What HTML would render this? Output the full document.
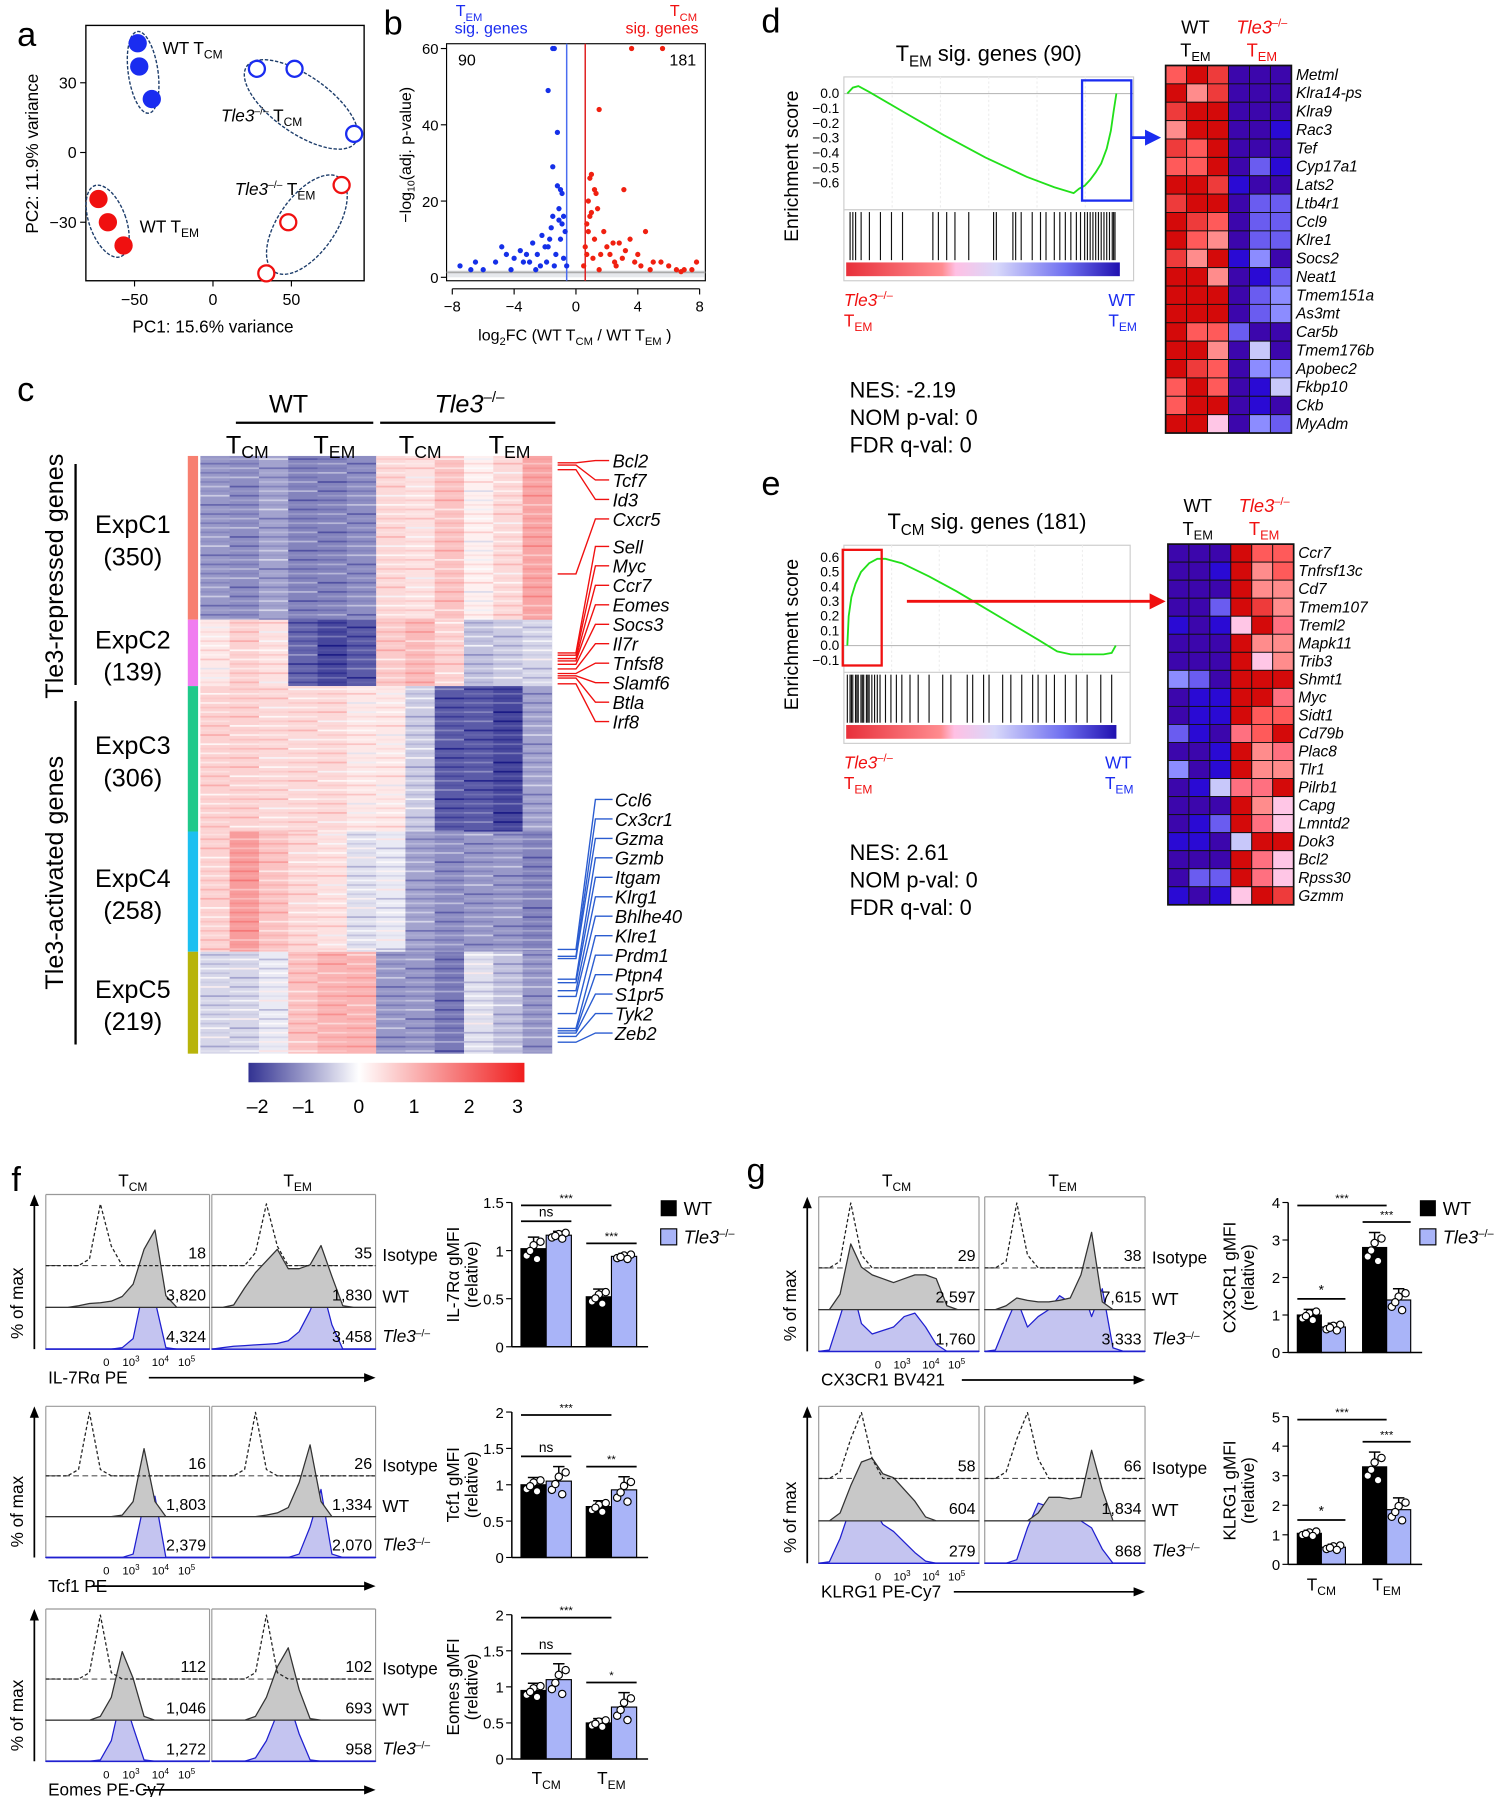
<!DOCTYPE html>
<html><head><meta charset="utf-8">
<style>
html,body{margin:0;padding:0;background:#fff;}
svg{display:block;font-family:"Liberation Sans",Arial,sans-serif;}
</style></head>
<body>
<svg id="fig" xmlns="http://www.w3.org/2000/svg" width="1500" height="1797" viewBox="0 0 1310 1569">
<rect x="0" y="0" width="1310" height="1569" fill="#fff"/>
<g font-size="30" fill="#000">
<text x="15" y="40">a</text><text x="335" y="30">b</text><text x="15" y="350">c</text>
<text x="665" y="28">d</text><text x="665" y="432">e</text><text x="10" y="1040">f</text><text x="652" y="1032">g</text>
</g>
</svg>
<script>
// ---------- DATA ----------
const pcaWTcmX=[-48,-47,-39], pcaWTcmY=[47,37,23];
const pcaKOcmX=[28,52,90], pcaKOcmY=[36,36,8];
const pcaWTemX=[-73,-67,-57], pcaWTemY=[-20,-30,-40];
const pcaKOemX=[48,82,34], pcaKOemY=[-30,-14,-52];
const pcaXTicks=[-50,0,50], pcaYTicks=[30,0,-30];
const volBlueX=[-7.5,-6.8,-6.5,-6,-5.2,-4.8,-4.5,-4,-3.6,-3.2,-3,-2.8,-2.5,-2.2,-2,-1.8,-1.6,-1.5,-1.3,-1.2,-1.1,-1,-0.9,-0.8,-0.7,-0.9,-1,-0.6,-1.4,-2.6,-3.4,-1.9,-1.5,-1.4,-1.8,-1.2,-1.5,-4.2,-2.3,-1.7,-0.8,-1.1];
const volBlueY=[3,2,4,2,4,8,6,5,7,6,4,9,6,11,8,8,13,16,6,24,15,10,22,5,12,14,23,3,3,2,4,4,60,60,49,38,29,2,3,10,16,18];
const volRedX=[0.5,0.6,0.7,0.8,0.9,1,0.8,1.1,1.2,1.4,1.6,1.8,2,2.2,2.5,2.8,3,3.2,3.5,3.8,4,4.2,4.5,5,5.5,6,6.5,7,7.5,7.8,1.3,2.4,1.5,3.6,5.6,1.5,2.6,4.8,6.8,1.0,1.2,0.9,3.1,0.7];
const volRedY=[3,8,14,20,26,17,12,5,10,18,6,12,8,6,4,9,5,7,10,4,6,3,12,4,4,3,2,2,2,4,22,9,44,60,60,2,3,2,1.5,27,23,16,23,6];
const volXTicks=[-8,-4,0,4,8], volYTicks=[0,20,40,60];
const hmClusters=["ExpC1","ExpC2","ExpC3","ExpC4","ExpC5"];
const hmCounts=[350,139,306,258,219];
const hmC1=[-1,-1.1,-0.9,-1.2,-1.2,-1.1,0.5,0.4,0.8,0.2,0.5,1.2];
const hmC2=[0.3,0.6,0.4,-1.5,-1.8,-1.6,0.7,0.9,0.6,-0.6,-0.5,-0.4];
const hmC3=[0.6,0.6,0.5,0.5,0.5,0.3,0.3,-0.5,-1.6,-1.6,-1.8,-0.9];
const hmC4=[0.6,1.3,0.8,0.5,0.4,-0.3,-0.2,-0.9,-1.1,-1,-1,-1.2];
const hmC5=[-0.4,-0.4,-0.2,0.8,1.0,1.0,-1.0,-1.0,-1.3,-0.3,-0.6,-1.0];
const hmGenesUp=["Bcl2","Tcf7","Id3","Cxcr5","Sell","Myc","Ccr7","Eomes","Socs3","Il7r","Tnfsf8","Slamf6","Btla","Irf8"];
const hmGenesDown=["Ccl6","Cx3cr1","Gzma","Gzmb","Itgam","Klrg1","Bhlhe40","Klre1","Prdm1","Ptpn4","S1pr5","Tyk2","Zeb2"];
const cbTicks=[-2,-1,0,1,2,3];
// Panel d: running ES at rank fractions
const dESx=[0,0.02,0.04,0.08,0.2,0.35,0.5,0.65,0.75,0.82,0.84,0.86,0.88,0.9,0.92,0.94,0.955,0.965,0.975];
const dES=[0,0.04,0.05,0.01,-0.12,-0.28,-0.43,-0.56,-0.63,-0.67,-0.64,-0.62,-0.58,-0.53,-0.47,-0.37,-0.25,-0.12,0.0];
const dHits=[0.01,0.02,0.03,0.05,0.08,0.12,0.16,0.2,0.31,0.33,0.36,0.39,0.44,0.53,0.54,0.6,0.61,0.63,0.67,0.7,0.72,0.75,0.77,0.79,0.81,0.83,0.845,0.86,0.87,0.88,0.89,0.9,0.91,0.92,0.93,0.94,0.95,0.96,0.965,0.97];
const dGenes=["Metml","Klra14-ps","Klra9","Rac3","Tef","Cyp17a1","Lats2","Ltb4r1","Ccl9","Klre1","Socs2","Neat1","Tmem151a","As3mt","Car5b","Tmem176b","Apobec2","Fkbp10","Ckb","MyAdm"];
const dVals=[[1.5,3,2,-3,-3,-3],[3,1,2,-3,-3,-3],[2,3,3,-3,-3,-3],[1,3,3,-3,-3,-2],[2,1.5,3,-3,-3,-3],[1.5,1.5,3,-3,-1,-2],[3,3,2,-2,-3,-3],[2,3,3,-3,-1,-1],[3,2,1.5,-3,-1,-1],[3,1.5,1,-3,-1,-1],[2,1,3,-2,-0.7,-3],[3,3,1,-3,-2,-1],[3,3,3,-3,-1,-0.7],[3,3,3,-3,-1,-0.7],[3,1.5,1.5,-1,-3,-3],[3,3,1,-3,-0.2,-3],[3,2,1.5,-3,-0.7,-0.7],[1.5,3,1.5,-3,-2,-0.2],[1.5,3,3,-3,-2,-3],[3,3,0.3,-3,-0.7,-1]];
// Panel e
const eESx=[0,0.005,0.015,0.03,0.05,0.08,0.11,0.14,0.2,0.3,0.4,0.5,0.6,0.7,0.77,0.82,0.88,0.94,0.97,0.985];
const eES=[0,0.2,0.33,0.42,0.5,0.56,0.59,0.59,0.56,0.47,0.37,0.26,0.15,0.04,-0.04,-0.06,-0.06,-0.06,-0.05,0.0];
const eHits=[0.0,0.01,0.015,0.02,0.03,0.035,0.04,0.05,0.055,0.06,0.07,0.075,0.08,0.09,0.1,0.11,0.12,0.14,0.16,0.18,0.2,0.23,0.26,0.3,0.35,0.38,0.44,0.46,0.5,0.52,0.57,0.6,0.64,0.68,0.7,0.73,0.76,0.8,0.84,0.88,0.93,0.97];
const eGenes=["Ccr7","Tnfrsf13c","Cd7","Tmem107","Treml2","Mapk11","Trib3","Shmt1","Myc","Sidt1","Cd79b","Plac8","Tlr1","Pilrb1","Capg","Lmntd2","Dok3","Bcl2","Rpss30","Gzmm"];
const eVals=[[-3,-3,-3,3,1.5,1.5],[-3,-3,-2,3,1,1.5],[-3,-3,-3,3,1,1],[-3,-3,-1,3,2,1],[-2,-3,-2,0.3,3,1.2],[-3,-3,-3,3,1,1],[-3,-3,-3,3,0.3,1],[-0.7,-1,-3,3,3,3],[-3,-2,-2,3,3,1.2],[-3,-2,-2,3,1.5,1.5],[-1,-2,-3,1.2,1.5,3],[-3,-3,-2,3,1,1.2],[-0.7,-3,-2,3,1,1],[-3,-2,-0.2,1.2,1.2,3],[-3,-3,-3,3,1,0.3],[-3,-2,-1,3,1.2,0.3],[-2,-2,-3,-0.2,3,3],[-3,-3,-3,3,1.2,0.3],[-3,-1,-1,3,1.2,0.3],[-2,-3,-2,0.3,3,2]];
const f1Bars=[1.02,1.16,0.52,0.94], f1Err=[0.12,0.04,0.08,0.03];
const f2Bars=[1.0,1.05,0.7,0.93], f2Err=[0.1,0.2,0.08,0.18];
const f3Bars=[0.95,1.1,0.5,0.72], f3Err=[0.1,0.22,0.06,0.2];
const g1Bars=[1.0,0.68,2.8,1.4], g1Err=[0.15,0.1,0.4,0.3];
const g2Bars=[1.05,0.58,3.3,1.85], g2Err=[0.1,0.1,0.5,0.4];
const f1Ticks=[0,0.5,1.0,1.5], f23Ticks=[0,0.5,1,1.5,2], g1Ticks=[0,1,2,3,4], g2Ticks=[0,1,2,3,4,5];
const hF1cm=[[0,0,0,0,0.1,0.95,0.3,0,0,0,0,0,0,0,0,0],[0,0,0,0.02,0.05,0.06,0.08,0.14,0.3,0.75,1,0.15,0,0,0,0],[0,0,0,0,0,0,0,0.02,0.15,0.9,0.7,0.02,0,0,0,0]];
const hF1em=[[0,0,0,0,0.2,0.95,0.3,0,0,0,0,0,0,0,0,0],[0,0,0.03,0.25,0.45,0.6,0.75,0.5,0.5,0.55,0.8,0.4,0.02,0,0,0],[0,0.02,0.04,0.05,0.06,0.07,0.08,0.12,0.25,0.55,0.95,0.35,0,0,0,0]];
const hF2cm=[[0,0,0,0.1,1,0.1,0,0,0,0,0,0,0,0,0,0],[0,0,0,0,0,0,0,0.02,0.2,0.9,0.2,0,0,0,0,0],[0,0,0,0,0,0,0,0,0.05,0.8,0.9,0,0,0,0,0]];
const hF2em=[[0,0,0,0.1,1,0.1,0,0,0,0,0,0,0,0,0,0],[0,0,0,0,0,0.02,0.05,0.12,0.45,0.95,0.2,0,0,0,0,0],[0,0,0,0,0,0,0,0,0.05,0.45,1,0.05,0,0,0,0]];
const hF3cm=[[0,0,0,0,0.1,1,0.1,0,0,0,0,0,0,0,0,0],[0,0,0,0,0,0.05,0.3,0.9,0.55,0.05,0,0,0,0,0,0],[0,0,0,0,0,0.02,0.3,1,0.5,0.02,0,0,0,0,0,0]];
const hF3em=[[0,0,0,0,0.1,1,0.1,0,0,0,0,0,0,0,0,0],[0,0,0,0,0.05,0.3,0.7,0.95,0.4,0.02,0,0,0,0,0,0],[0,0,0,0,0.05,0.3,0.7,0.9,0.4,0.02,0,0,0,0,0,0]];
const hG1cm=[[0,0,0.1,1,0.2,0,0,0,0,0,0,0,0,0,0,0],[0,0,0.2,0.85,0.55,0.45,0.4,0.35,0.4,0.45,0.45,0.4,0.05,0,0,0],[0,0.02,0.5,1,0.4,0.25,0.3,0.35,0.5,0.55,0.35,0.1,0,0,0,0]];
const hG1em=[[0,0,0.1,1,0.2,0,0,0,0,0,0,0,0,0,0,0],[0,0,0.05,0.15,0.12,0.1,0.1,0.12,0.15,0.45,1,0.1,0,0,0,0],[0,0.02,0.4,0.75,0.35,0.5,0.6,0.8,0.7,0.95,0.5,0.9,0.05,0,0,0]];
const hG2cm=[[0,0,0.1,0.6,1,0.3,0,0,0,0,0,0,0,0,0,0],[0,0,0.1,0.45,0.75,0.8,0.6,0.55,0.4,0.25,0.05,0,0,0,0,0],[0,0.02,0.35,0.8,0.95,0.8,0.55,0.45,0.3,0.15,0.03,0,0,0,0,0]];
const hG2em=[[0,0,0.1,0.6,1,0.3,0,0,0,0,0,0,0,0,0,0],[0,0,0,0,0,0.1,0.3,0.3,0.28,0.3,0.9,0.4,0,0,0,0],[0,0,0,0.05,0.5,0.85,0.8,0.7,0.65,0.6,0.5,0.2,0,0,0,0]];

// ---------- HELPERS ----------
const NS="http://www.w3.org/2000/svg";
const svg=document.getElementById('fig');
function mk(tag,attrs,parent){const e=document.createElementNS(NS,tag);for(const k in attrs)e.setAttribute(k,attrs[k]);(parent||svg).appendChild(e);return e;}
function txt(x,y,s,opts,parent){const o=Object.assign({x:x,y:y,'font-size':14},opts||{});const t=mk('text',o,parent);t.innerHTML=s;return t;}
function grp(name){const g=mk('g',{});return g;}
const SUB=(s)=>`<tspan font-size="0.7em" dy="4">${s}</tspan><tspan dy="-4"> </tspan>`;
function hmColor(v){
  if(v>=2.5)return'#d40a0a';if(v>=1.8)return'#ee3b3b';if(v>=1.4)return'#ff5a5a';if(v>=1.1)return'#ff7080';if(v>=0.8)return'#ff8c8c';if(v>0)return'#ffc6e6';
  if(v<=-2.5)return'#3c06ac';if(v<=-1.8)return'#2a0ad4';if(v<=-0.9)return'#6a5cf0';if(v<=-0.5)return'#8c8cff';return'#c8c8fa';}
function divColor(v){
  let r,g,b;
  if(v<0){const t=Math.min(1,-v/2.3);r=255+(20-255)*t;g=255+(20-255)*t;b=255+(130-255)*t;}
  else{const t=Math.min(1,v/3);r=255+(240-255)*t;g=255+(30-255)*t;b=255+(30-255)*t;}
  return `rgb(${r|0},${g|0},${b|0})`;}

// ---------- PANEL A ----------
(function(){
  const G=grp('pca-plot');
  const xs=v=>186+v*1.37, ys=v=>133-v*2.03;
  const frame=mk('rect',{x:75,y:22,width:243,height:223,fill:'none',stroke:'#000','stroke-width':1.2},G);
  
  pcaXTicks.forEach(t=>{mk('line',{x1:xs(t),x2:xs(t),y1:245,y2:250,stroke:'#000'},G);txt(xs(t),266,String(t).replace('-','−'),{'text-anchor':'middle','font-size':14},G);});
  pcaYTicks.forEach(t=>{mk('line',{x1:70,x2:75,y1:ys(t),y2:ys(t),stroke:'#000'},G);txt(67,ys(t)+5,String(t).replace('-','−'),{'text-anchor':'end','font-size':14},G);});
  const xl=txt(186,290,'PC1: 15.6% variance',{'text-anchor':'middle','font-size':15},G);
  
  const yl=txt(0,0,'PC2: 11.9% variance',{'text-anchor':'middle','font-size':15,transform:'translate(33,134) rotate(-90)'},G);
  
  [[125,63,13,36,-8],[263,91,58,25,35],[94,193,16,33,-20],[268,196,50,25,-55]].forEach(e=>{
    const el=mk('ellipse',{cx:e[0],cy:e[1],rx:e[2],ry:e[3],fill:'none',stroke:'#1d3d6b','stroke-width':1.2,'stroke-dasharray':'3,1.5',transform:`rotate(${e[4]} ${e[0]} ${e[1]})`},G);
    });
  function pts(X,Y,col,filled,name){X.forEach((v,i)=>{const c=mk('circle',{cx:xs(v),cy:ys(Y[i]),r:filled?8:7,fill:filled?col:'#fff',stroke:col,'stroke-width':filled?0:2},G);
    });}
  pts(pcaWTcmX,pcaWTcmY,'#1a2cf0',true,'pca-point-wt-tcm');
  pts(pcaKOcmX,pcaKOcmY,'#1a2cf0',false,'pca-point-tle3-tcm');
  pts(pcaWTemX,pcaWTemY,'#f01010',true,'pca-point-wt-tem');
  pts(pcaKOemX,pcaKOemY,'#f01010',false,'pca-point-tle3-tem');
  txt(142,47,'WT T'+SUB('CM'),{'font-size':15},G);
  txt(193,106,'<tspan font-style="italic">Tle3</tspan><tspan font-size="0.6em" dy="-6">–/–</tspan><tspan dy="6"> T</tspan>'+SUB('CM'),{'font-size':15},G);
  txt(122,203,'WT T'+SUB('EM'),{'font-size':15},G);
  txt(205,170,'<tspan font-style="italic">Tle3</tspan><tspan font-size="0.6em" dy="-6">–/–</tspan><tspan dy="6"> T</tspan>'+SUB('EM'),{'font-size':15},G);
})();

// ---------- PANEL B ----------
(function(){
  const G=grp('volcano-plot');
  const xs=v=>503+v*13.5, ys=v=>242-v*3.33;
  mk('rect',{x:390,y:38,width:226,height:207,fill:'none',stroke:'#000','stroke-width':1},G);
  mk('rect',{x:391,y:236,width:224,height:6,fill:'#e6e8ec'},G);
  mk('line',{x1:390,x2:616,y1:ys(1.3),y2:ys(1.3),stroke:'#aaa','stroke-width':1.5},G);
  mk('line',{x1:xs(-0.6),x2:xs(-0.6),y1:38,y2:245,stroke:'#4a6cf0','stroke-width':1.3},G);
  mk('line',{x1:xs(0.6),x2:xs(0.6),y1:38,y2:245,stroke:'#e02020','stroke-width':1.3},G);
  volXTicks.forEach(t=>{mk('line',{x1:xs(t),x2:xs(t),y1:252,y2:257,stroke:'#000'},G);txt(xs(t),272,String(t).replace('-','−'),{'text-anchor':'middle','font-size':13},G);});
  mk('line',{x1:xs(-8),x2:xs(8),y1:252,y2:252,stroke:'#000'},G);
  volYTicks.forEach(t=>{mk('line',{x1:385,x2:390,y1:ys(t),y2:ys(t),stroke:'#000'},G);txt(383,ys(t)+5,String(t),{'text-anchor':'end','font-size':13},G);});
  volBlueX.forEach((v,i)=>{const c=mk('circle',{cx:xs(v),cy:ys(volBlueY[i]),r:2.3,fill:'#1530e8'},G);});
  volRedX.forEach((v,i)=>{const c=mk('circle',{cx:xs(v),cy:ys(volRedY[i]),r:2.3,fill:'#f02010'},G);});
  txt(400,57,'90',{'font-size':14},G);txt(608,57,'181',{'font-size':14,'text-anchor':'end'},G);
  txt(398,14,'T'+SUB('EM'),{'font-size':14,fill:'#1a2cf0'},G);txt(397,29,'sig. genes',{'font-size':14,fill:'#1a2cf0'},G);
  txt(585,14,'T'+SUB('CM'),{'font-size':14,fill:'#f01010'},G);txt(610,29,'sig. genes',{'font-size':14,fill:'#f01010','text-anchor':'end'},G);
  txt(0,0,'−log<tspan font-size="0.65em" dy="3">10</tspan><tspan dy="-3">(adj. p-value)</tspan>',{'text-anchor':'middle','font-size':14,transform:'translate(359,135) rotate(-90)'},G);
  txt(502,297,'log<tspan font-size="0.7em" dy="4">2</tspan><tspan dy="-4">FC (WT T</tspan>'+SUB('CM')+'/ WT T'+SUB('EM')+')',{'text-anchor':'middle','font-size':14},G);
})();

// ---------- PANEL C ----------
(function(){
  const G=grp('expression-heatmap');
  const x0=175,x1=482,cw=(x1-x0)/12;
  const bounds=[398,541,599,726,831,920];
  const rows=[hmC1,hmC2,hmC3,hmC4,hmC5];
  const sideCols=['#f77f70','#f07cf0','#1fc98a','#1cc0f0','#b8b40a'];
  rows.forEach((r,ci)=>{
    const y0=bounds[ci],y1=bounds[ci+1];
    r.forEach((v,j)=>{const c=mk('rect',{x:x0+j*cw,y:y0,width:cw+0.3,height:y1-y0,fill:divColor(v)},G);
      });
    for(let y=y0+2;y<y1;y+=4){r.forEach((v,j)=>{const d=((y*7+j*13)%11-5)/12;mk('rect',{x:x0+j*cw,y:y,width:cw,height:1.5,fill:divColor(v+d*1.4),opacity:0.85},G);});}
    const sb=mk('rect',{x:164,y:y0,width:9,height:y1-y0,fill:sideCols[ci]},G);
    
    const lbl=txt(116,(y0+y1)/2-4,hmClusters[ci],{'text-anchor':'middle','font-size':22},G);
    txt(116,(y0+y1)/2+24,'('+hmCounts[ci]+')',{'text-anchor':'middle','font-size':22},G);
    
  });
  mk('line',{x1:66,x2:66,y1:405,y2:598,stroke:'#000','stroke-width':2},G);
  mk('line',{x1:66,x2:66,y1:612,y2:912,stroke:'#000','stroke-width':2},G);
  txt(0,0,'Tle3-repressed genes',{'text-anchor':'middle','font-size':22,transform:'translate(55,503) rotate(-90)'},G);
  txt(0,0,'Tle3-activated genes',{'text-anchor':'middle','font-size':22,transform:'translate(55,762) rotate(-90)'},G);
  txt(252,360,'WT',{'text-anchor':'middle','font-size':22},G);
  txt(410,360,'<tspan font-style="italic">Tle3</tspan><tspan font-size="0.6em" dy="-9">–/–</tspan>',{'text-anchor':'middle','font-size':22},G);
  mk('line',{x1:206,x2:326,y1:369,y2:369,stroke:'#000','stroke-width':2},G);
  mk('line',{x1:332,x2:485,y1:369,y2:369,stroke:'#000','stroke-width':2},G);
  [[216,'CM'],[292,'EM'],[367,'CM'],[445,'EM']].forEach(a=>txt(a[0],396,'T'+SUB(a[1]),{'text-anchor':'middle','font-size':22},G));
  const upY=hmGenesUp.map((g,i)=>402+i*17+(i>=4?7:0));
  const upSrc=[404,406,410,501,570,572,575,577,580,584,588,590,592,597];
  hmGenesUp.forEach((g,i)=>{const y=upY[i];mk('polyline',{points:`487,${upSrc[i]} 503,${upSrc[i]} 520,${y} 532,${y}`,fill:'none',stroke:'#f01010','stroke-width':1.2},G);
    const t=txt(535,y+6,g,{'font-size':16,'font-style':'italic'},G);});
  const dnSrc=[829,835,837,855,858,865,870,885,898,900,902,905,910];
  hmGenesDown.forEach((g,i)=>{const y=698+i*17;mk('polyline',{points:`487,${dnSrc[i]} 503,${dnSrc[i]} 520,${y} 535,${y}`,fill:'none',stroke:'#2a5cd0','stroke-width':1.2},G);
    const t=txt(537,y+6,g,{'font-size':16,'font-style':'italic'},G);});
  const CB=grp('heatmap-colorbar');
  const defs=mk('defs',{},CB);const lg=mk('linearGradient',{id:'cbg',x1:0,x2:1,y1:0,y2:0},defs);
  [-2,-1,0,1,2,3].forEach((v,i)=>mk('stop',{offset:(i/5),'stop-color':divColor(v)},lg));
  mk('rect',{x:217,y:928,width:241,height:17,fill:'url(#cbg)'},CB);
  cbTicks.forEach(t=>{const x=217+(t+2)/5*241+ (t===-2?8:t===3?-6:0);txt(x,972,t<0?'–'+(-t):String(t),{'text-anchor':'middle','font-size':17},CB);});
})();

// ---------- GSEA (d,e) ----------
function gsea(name,bx,by,bw,bh,esx,es,ymin,ymax,ticks,hits,title,boxRect,arrow,stats,hmx,hmy,genes,vals,hmTop){
  const G=grp(name);
  const ys=v=>by+ (ymax-v)/(ymax-ymin)*bh, xs=f=>bx+3+f*(bw-12);
  mk('rect',{x:bx,y:by-8,width:bw,height:bh+16+62,fill:'#fff',stroke:'#ccc'},G);
  for(let i=1;i<6;i++)mk('line',{x1:bx+i*bw/6,x2:bx+i*bw/6,y1:by-8,y2:by+bh+8,stroke:'#eee','stroke-dasharray':'2,2'},G);
  mk('line',{x1:bx,x2:bx+bw,y1:ys(0),y2:ys(0),stroke:'#bbb'},G);
  ticks.forEach(t=>txt(bx-4,ys(t)+4,t.toFixed(1).replace('-','−'),{'text-anchor':'end','font-size':12},G));
  const pts=es.map((v,i)=>`${xs(esx[i])},${ys(v)}`).join(' ');
  const cur=mk('polyline',{points:pts,fill:'none',stroke:'#22e01a','stroke-width':1.6},G);
  
  const hy0=by+bh+10,hy1=hy0+42;
  mk('line',{x1:bx,x2:bx+bw,y1:hy0-2,y2:hy0-2,stroke:'#ccc'},G);
  hits.forEach(f=>{const l=mk('line',{x1:xs(f),x2:xs(f),y1:hy0,y2:hy1,stroke:'#111','stroke-width':1},G);});
  const gid='rk'+name;const defs=mk('defs',{},G);const lg=mk('linearGradient',{id:gid,x1:0,x2:1,y1:0,y2:0},defs);
  [['0','#e8303a'],['0.35','#ff8c90'],['0.4','#ffc0e4'],['0.55','#d8d8fa'],['0.8','#7070f0'],['1','#2010b0']].forEach(s=>mk('stop',{offset:s[0],'stop-color':s[1]},lg));
  mk('rect',{x:bx+2,y:hy1+2,width:bw-14,height:12,fill:`url(#${gid})`},G);
  txt(bx+bw/2,by-22,title,{'text-anchor':'middle','font-size':19},G);
  txt(0,0,'Enrichment score',{'text-anchor':'middle','font-size':17,transform:`translate(${bx-40},${by+70}) rotate(-90)`},G);
  mk('rect',Object.assign({fill:'none','stroke-width':2},boxRect),G);
  mk('polyline',{points:arrow.pts,fill:'none',stroke:arrow.col,'stroke-width':2.5},G);
  mk('polygon',{points:arrow.head,fill:arrow.col},G);
  txt(bx,hy1+40,'<tspan font-style="italic">Tle3</tspan><tspan font-size="0.65em" dy="-6">–/–</tspan>',{'font-size':15,fill:'#f01010'},G);
  txt(bx,hy1+58,'T'+SUB('EM'),{'font-size':15,fill:'#f01010'},G);
  txt(bx+bw-22,hy1+40,'WT',{'font-size':15,fill:'#1a2cf0'},G);
  txt(bx+bw-22,hy1+58,'T'+SUB('EM'),{'font-size':15,fill:'#1a2cf0'},G);
  stats.forEach((s,i)=>txt(bx+5,hy1+120+i*24,s,{'font-size':19},G));
  const H=grp(name+'-heatmap');const cw=18.3,rh=(hmTop[1]-hmy)/genes.length;
  vals.forEach((row,r)=>row.forEach((v,c)=>{const cell=mk('rect',{x:hmx+c*cw,y:hmy+r*rh,width:cw,height:rh,fill:hmColor(v),stroke:'#111','stroke-width':0.8},H);
    }));
  mk('rect',{x:hmx,y:hmy,width:cw*6,height:rh*genes.length,fill:'none',stroke:'#111','stroke-width':1.5},H);
  genes.forEach((g,r)=>{const t=txt(hmx+6*cw+4,hmy+r*rh+rh*0.78,g,{'font-size':13.5,'font-style':'italic'},H);});
  txt(hmx+26,hmy-28,'WT',{'text-anchor':'middle','font-size':16},H);
  txt(hmx+26,hmy-8,'T'+SUB('EM'),{'text-anchor':'middle','font-size':16},H);
  txt(hmx+84,hmy-28,'<tspan font-style="italic">Tle3</tspan><tspan font-size="0.6em" dy="-6">–/–</tspan>',{'text-anchor':'middle','font-size':16,fill:'#f01010'},H);
  txt(hmx+84,hmy-8,'T'+SUB('EM'),{'text-anchor':'middle','font-size':16,fill:'#f01010'},H);
}
gsea('gsea-tem',737,75,253,100,dESx,dES,-0.72,0.05,[0,-0.1,-0.2,-0.3,-0.4,-0.5,-0.6],dHits,'T<tspan font-size="0.7em" dy="5">EM</tspan><tspan dy="-5"> sig. genes (90)</tspan>',
  {x:945,y:70,width:43,height:105,stroke:'#1a2cf0'},{col:'#1a2cf0',pts:'988,120 1003,120',head:'1000,113 1014,120 1000,127'},
  ['NES: -2.19','NOM p-val: 0','FDR q-val: 0'],1018,57,dGenes,dVals,[0,378]);
gsea('gsea-tcm',737,484,250,95,eESx,eES,-0.12,0.62,[0.6,0.5,0.4,0.3,0.2,0.1,0,-0.1],eHits,'T<tspan font-size="0.7em" dy="5">CM</tspan><tspan dy="-5"> sig. genes (181)</tspan>',
  {x:736,y:480,width:34,height:101,stroke:'#f01010'},{col:'#f01010',pts:'792,525 1008,525',head:'1004,518 1018,525 1004,532'},
  ['NES: 2.61','NOM p-val: 0','FDR q-val: 0'],1020,475,eGenes,eVals,[0,790]);

// ---------- HISTOGRAMS ----------
function hist(name,x0,x1,yT,yB,shapes,nums,showLab){
  const G=grp(name);const H=yB-yT,W=x1-x0;
  const bases=[yT+0.46*H,yT+0.73*H,yB],amps=[0.42*H,0.5*H,0.45*H];
  const fills=['none','#c8c8c8','#c4c4f0'],strokes=['#222','#333','#2020d0'];
  mk('line',{x1:x0,x2:x1,y1:yT,y2:yT,stroke:'#999'},G);mk('line',{x1:x1,x2:x1,y1:yT,y2:yB,stroke:'#999'},G);
  mk('line',{x1:x0,x2:x0,y1:yT,y2:yB,stroke:'#999'},G);
  mk('line',{x1:x0,x2:x1,y1:bases[0],y2:bases[0],stroke:'#555','stroke-dasharray':'5,3'},G);
  mk('line',{x1:x0,x2:x1,y1:bases[1],y2:bases[1],stroke:'#888'},G);
  mk('line',{x1:x0,x2:x1,y1:yB,y2:yB,stroke:'#2020d0','stroke-width':1.5},G);
  [2,1,0].forEach(k=>{const s=shapes[k];const n=s.length;
    let d=`M${x0},${bases[k]} `+s.map((v,i)=>`L${x0+i/(n-1)*W},${bases[k]-v*amps[k]}`).join(' ')+` L${x1},${bases[k]}`;
    const p=mk('path',{d:d+(k?' Z':''),fill:fills[k],stroke:strokes[k],'stroke-width':1.1,'stroke-dasharray':k?'none':'3,2','stroke-linejoin':'round'},G);
    });
  nums.forEach((s,k)=>txt(x1-3,bases[k]-6,s,{'text-anchor':'end','font-size':14},G));
  if(showLab){txt(x1+6,bases[0]-4,'Isotype',{'font-size':15},G);txt(x1+6,bases[1]-4,'WT',{'font-size':15},G);
    txt(x1+6,bases[2]-6,'<tspan font-style="italic">Tle3</tspan><tspan font-size="0.6em" dy="-5">–/–</tspan>',{'font-size':15},G);}
}
function histRow(x0,w,gap,yT,yB,sh1,sh2,n1,n2,xlab,name,labOffsets){
  hist(name+'-tcm',x0,x0+w,yT,yB,sh1,n1,false);
  hist(name+'-tem',x0+w+gap,x0+2*w+gap,yT,yB,sh2,n2,true);
  mk('line',{x1:x0-10,x2:x0-10,y1:yB,y2:yT+4,stroke:'#000','stroke-width':1.5});
  mk('polygon',{points:`${x0-14},${yT+10} ${x0-10},${yT} ${x0-6},${yT+10}`,fill:'#000'});
  const yl=txt(0,0,'% of max',{'text-anchor':'middle','font-size':15,transform:`translate(${x0-20},${yB-40}) rotate(-90)`});
  
  const tk=[[0.37,'0'],[0.52,'10<tspan font-size="0.7em" dy="-4">3</tspan>'],[0.7,'10<tspan font-size="0.7em" dy="-4">4</tspan>'],[0.86,'10<tspan font-size="0.7em" dy="-4">5</tspan>']];
  tk.forEach(t=>txt(x0+t[0]*w,yB+15,t[1],{'text-anchor':'middle','font-size':10}));
  const xl=txt(x0+2,yB+30,xlab,{'font-size':15});
  
  mk('line',{x1:labOffsets,x2:x0+2*w+gap-4,y1:yB+25,y2:yB+25,stroke:'#000','stroke-width':1.5});
  mk('polygon',{points:`${x0+2*w+gap-10},${yB+21} ${x0+2*w+gap},${yB+25} ${x0+2*w+gap-10},${yB+29}`,fill:'#000'});
}
histRow(40,143,2,1043,1178,hF1cm,hF1em,['18','3,820','4,324'],['35','1,830','3,458'],'IL-7Rα PE','hist-il7r',130);
histRow(40,143,2,1228,1360,hF2cm,hF2em,['16','1,803','2,379'],['26','1,334','2,070'],'Tcf1 PE','hist-tcf1',80);
histRow(40,143,2,1405,1538,hF3cm,hF3em,['112','1,046','1,272'],['102','693','958'],'Eomes PE-Cy7','hist-eomes',125);
histRow(715,140,5,1045,1180,hG1cm,hG1em,['29','2,597','1,760'],['38','7,615','3,333'],'CX3CR1 BV421','hist-cx3cr1',840);
histRow(715,140,5,1228,1365,hG2cm,hG2em,['58','604','279'],['66','1,834','868'],'KLRG1 PE-Cy7','hist-klrg1',833);
[['T'+SUB('CM'),116],['T'+SUB('EM'),260],['T'+SUB('CM'),783],['T'+SUB('EM'),928]].forEach(a=>txt(a[1],1036,a[0],{'text-anchor':'middle','font-size':15}));

// ---------- BAR CHARTS ----------
function bars(name,ax,yTop,yBot,max,ticks,vals,errs,ylab,sigs,bw,gx){
  const G=grp(name);const ys=v=>yBot-v/max*(yBot-yTop);
  const xsB=[ax+8,ax+8+bw,ax+8+gx,ax+8+gx+bw];
  vals.forEach((v,i)=>{const b=mk('rect',{x:xsB[i],y:ys(v),width:bw,height:yBot-ys(v),fill:i%2?'#a9b4f8':'#000',stroke:'#000','stroke-width':1},G);
    
    const cx=xsB[i]+bw/2;mk('line',{x1:cx,x2:cx,y1:ys(v),y2:ys(v+errs[i]),stroke:'#000','stroke-width':1.3},G);
    mk('line',{x1:cx-5,x2:cx+5,y1:ys(v+errs[i]),y2:ys(v+errs[i]),stroke:'#000','stroke-width':1.3},G);
    [-6,0,6,-3,3].forEach((o,k)=>mk('circle',{cx:cx+o,cy:ys(v+[-0.6,0.3,0.6,-0.2,-0.9][k]*errs[i]),r:3.2,fill:'#fff',stroke:'#000','stroke-width':1},G));});
  mk('line',{x1:ax,x2:ax,y1:yTop,y2:yBot,stroke:'#000','stroke-width':1.3},G);
  mk('line',{x1:ax,x2:xsB[3]+bw+10,y1:yBot,y2:yBot,stroke:'#000','stroke-width':1.3},G);
  ticks.forEach(t=>{mk('line',{x1:ax-5,x2:ax,y1:ys(t),y2:ys(t),stroke:'#000'},G);txt(ax-7,ys(t)+5,String(t),{'text-anchor':'end','font-size':13},G);});
  txt(0,0,ylab,{'text-anchor':'middle','font-size':15,transform:`translate(${ax-46},${(yTop+yBot)/2}) rotate(-90)`},G);
  txt(0,0,'(relative)',{'text-anchor':'middle','font-size':15,transform:`translate(${ax-30},${(yTop+yBot)/2}) rotate(-90)`},G);
  const s=sigs;
  mk('line',{x1:xsB[0],x2:xsB[2]+bw,y1:ys(max*0.98),y2:ys(max*0.98),stroke:'#000','stroke-width':1.5},G);
  txt((xsB[0]+xsB[2]+bw)/2,ys(max*0.98)-3,'***',{'text-anchor':'middle','font-size':10},G);
  const hy1=ys(Math.max(vals[0]+errs[0],vals[1]+errs[1])+max*0.07);
  mk('line',{x1:xsB[0],x2:xsB[1]+bw,y1:hy1,y2:hy1,stroke:'#000','stroke-width':1.5},G);
  txt(xsB[1],hy1-4,s[0],{'text-anchor':'middle','font-size':12},G);
  const hy2=ys(Math.max(vals[2]+errs[2],vals[3]+errs[3])+max*0.07);
  mk('line',{x1:xsB[2],x2:xsB[3]+bw,y1:hy2,y2:hy2,stroke:'#000','stroke-width':1.5},G);
  txt(xsB[3],hy2-3,s[1],{'text-anchor':'middle','font-size':10},G);
  return xsB;
}
bars('bar-il7r',447,1050,1176,1.5,f1Ticks,f1Bars,f1Err,'IL-7Rα gMFI',['ns','***'],22,57);
bars('bar-tcf1',447,1233,1360,2,f23Ticks,f2Bars,f2Err,'Tcf1 gMFI',['ns','**'],22,57);
const fx=bars('bar-eomes',447,1410,1536,2,f23Ticks,f3Bars,f3Err,'Eomes gMFI',['ns','*'],22,57);
bars('bar-cx3cr1',1125,1050,1181,4,g1Ticks,g1Bars,g1Err,'CX3CR1 gMFI',['*','***'],21,57);
const gx=bars('bar-klrg1',1125,1237,1366,5,g2Ticks,g2Bars,g2Err,'KLRG1 gMFI',['*','***'],21,57);
txt(fx[1],1558,'T'+SUB('CM'),{'text-anchor':'middle','font-size':15});txt(fx[3],1558,'T'+SUB('EM'),{'text-anchor':'middle','font-size':15});
txt(gx[1],1389,'T'+SUB('CM'),{'text-anchor':'middle','font-size':15});txt(gx[3],1389,'T'+SUB('EM'),{'text-anchor':'middle','font-size':15});
[[577,1048],[1240,1048]].forEach(p=>{
  const L=grp('legend');
  const a=mk('rect',{x:p[0],y:p[1],width:14,height:14,fill:'#000'},L);
  txt(p[0]+20,p[1]+13,'WT',{'font-size':16},L);
  const b=mk('rect',{x:p[0],y:p[1]+25,width:14,height:14,fill:'#a9b4f8',stroke:'#000'},L);
  txt(p[0]+20,p[1]+38,'<tspan font-style="italic">Tle3</tspan><tspan font-size="0.6em" dy="-6">–/–</tspan>',{'font-size':16},L);
});
</script>
</body></html>
